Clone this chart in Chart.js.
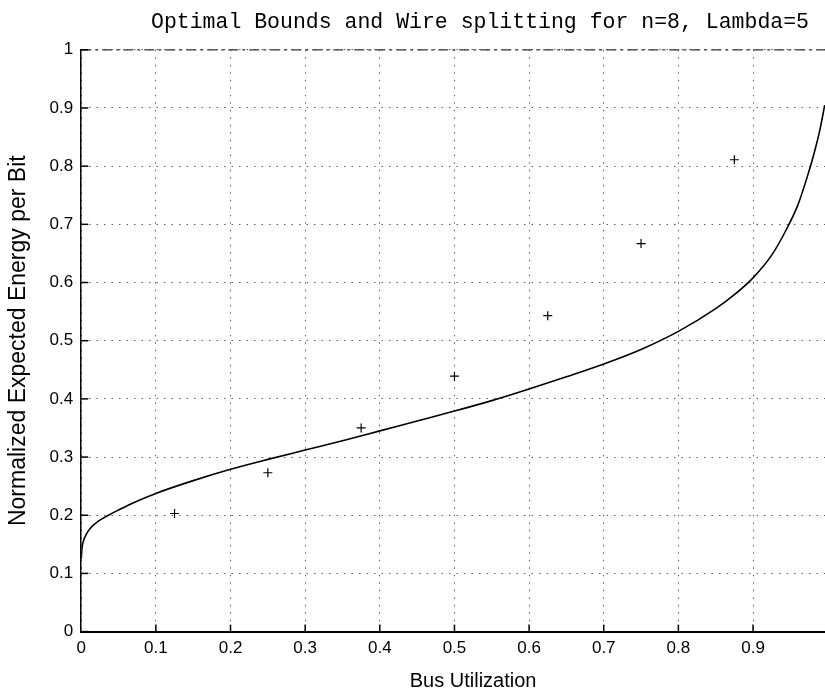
<!DOCTYPE html>
<html>
<head>
<meta charset="utf-8">
<script src="https://cdn.jsdelivr.net/npm/chart.js@4.4.1/dist/chart.umd.min.js"></script>
<style>
html,body{margin:0;padding:0;background:#fff;overflow:hidden;}
#wrap{width:825px;height:690px;overflow:hidden;}
canvas{display:block;}
</style>
</head>
<body>
<div id="wrap"><canvas id="c" width="960" height="694"></canvas></div>
<script>
// Optimal bound curve (solid line)
const boundX = [0, 0.001, 0.003, 0.007, 0.013, 0.022, 0.035, 0.05, 0.07, 0.1, 0.15, 0.2, 0.25, 0.3, 0.35, 0.4, 0.45, 0.5, 0.55, 0.6, 0.65, 0.7, 0.75, 0.8, 0.85, 0.875, 0.9, 0.925, 0.945, 0.96, 0.972, 0.982, 0.99, 0.996];
const boundY = [0.125, 0.143, 0.156, 0.168, 0.179, 0.189, 0.199, 0.209, 0.2215, 0.2375, 0.2595, 0.279, 0.296, 0.312, 0.328, 0.345, 0.362, 0.379, 0.397, 0.417, 0.438, 0.460, 0.485, 0.516, 0.555, 0.579, 0.608, 0.647, 0.692, 0.733, 0.779, 0.823, 0.865, 0.905];
// Wire splitting points (+ markers)
const splitX = [0.125, 0.25, 0.375, 0.5, 0.625, 0.75, 0.875];
const splitY = [0.203, 0.273, 0.350, 0.439, 0.543, 0.667, 0.811];
// Tick labels
const xTickLabels = ['0', '0.1', '0.2', '0.3', '0.4', '0.5', '0.6', '0.7', '0.8', '0.9'];
const yTickLabels = ['0', '0.1', '0.2', '0.3', '0.4', '0.5', '0.6', '0.7', '0.8', '0.9', '1'];

const titleText = 'Optimal Bounds and Wire splitting for n=8, Lambda=5';
const xTitle = 'Bus Utilization';
const yTitle = 'Normalized Expected Energy per Bit';

const boundData = boundX.map((x, i) => ({x: x, y: boundY[i]}));
const splitData = splitX.map((x, i) => ({x: x, y: splitY[i]}));

const inwardTicks = {
  id: 'inwardTicks',
  afterDraw(chart) {
    const ctx = chart.ctx;
    const a = chart.chartArea;
    const xs = chart.scales.x, ys = chart.scales.y;
    ctx.save();
    // top border (dash-dot)
    ctx.strokeStyle = '#333';
    ctx.lineWidth = 1.3;
    ctx.setLineDash([10, 4, 3, 4]);
    ctx.beginPath();
    ctx.moveTo(a.left, a.top);
    ctx.lineTo(a.right, a.top);
    ctx.stroke();
    ctx.setLineDash([]);
    ctx.strokeStyle = '#000';
    ctx.lineWidth = 1.5;
    xs.ticks.forEach((t, i) => {
      if (t.value > 0.95 || t.value <= 0) return;
      const px = xs.getPixelForTick(i);
      ctx.beginPath();
      ctx.moveTo(px, a.bottom);
      ctx.lineTo(px, a.bottom - 7);
      ctx.stroke();
    });
    ys.ticks.forEach((t, i) => {
      const py = ys.getPixelForTick(i);
      ctx.beginPath();
      ctx.moveTo(a.left, py);
      ctx.lineTo(a.left + 7, py);
      ctx.stroke();
    });
    ctx.restore();
  }
};

new Chart(document.getElementById('c'), {
  type: 'scatter',
  data: {
    datasets: [
      {
        label: 'bound',
        data: boundData,
        showLine: true,
        borderColor: '#000',
        borderWidth: 1.6,
        pointRadius: 0,
        cubicInterpolationMode: 'monotone',
        fill: false
      },
      {
        label: 'wire splitting',
        data: splitData,
        showLine: false,
        pointStyle: 'cross',
        pointRadius: 4.5,
        borderColor: '#000',
        backgroundColor: '#000',
        borderWidth: 1.2
      }
    ]
  },
  options: {
    responsive: false,
    animation: false,
    events: [],
    layout: {padding: {left: 0, right: 0, top: 0, bottom: 0}},
    plugins: {
      legend: {display: false},
      tooltip: {enabled: false},
      title: {
        display: true,
        text: titleText,
        color: '#000',
        font: {family: "'Liberation Mono', 'DejaVu Sans Mono', monospace", size: 21.5, weight: 'normal'},
        padding: {top: 9, bottom: 15}
      }
    },
    scales: {
      x: {
        type: 'linear',
        min: 0,
        max: 1.05,
        border: {display: true, color: '#000', width: 2, dash: [1.5, 6]},
        grid: {color: 'rgba(40,40,40,0.75)', lineWidth: 1, drawTicks: false},
        ticks: {
          stepSize: 0.1,
          includeBounds: false,
          padding: 7,
          color: '#000',
          font: {family: "'Liberation Sans', Arial, sans-serif", size: 17},
          maxRotation: 0,
          autoSkip: false,
          callback: (v) => { const i = Math.round(v * 10); return i < xTickLabels.length ? xTickLabels[i] : ''; }
        },
        title: {
          display: true,
          text: xTitle,
          color: '#000',
          font: {family: "'Liberation Sans', Arial, sans-serif", size: 20},
          padding: {top: 3, bottom: 1}
        }
      },
      y: {
        type: 'linear',
        min: 0,
        max: 1,
        border: {display: true, color: '#000', width: 1.5, dash: [1.5, 6]},
        grid: {color: 'rgba(40,40,40,0.75)', lineWidth: 1, drawTicks: false},
        ticks: {
          stepSize: 0.1,
          padding: 8,
          color: '#000',
          font: {family: "'Liberation Sans', Arial, sans-serif", size: 17},
          autoSkip: false,
          callback: (v) => yTickLabels[Math.round(v * 10)]
        },
        title: {
          display: true,
          text: yTitle,
          color: '#000',
          font: {family: "'Liberation Sans', Arial, sans-serif", size: 23},
          padding: {top: 5, bottom: 9}
        }
      },
      yR: {
        type: 'linear',
        position: 'right',
        display: true,
        min: 0,
        max: 1,
        grid: {display: false, drawTicks: false},
        border: {display: false},
        ticks: {display: false},
        afterFit: (scale) => { scale.width = 95; }
      }
    }
  },
  plugins: [inwardTicks]
});
</script>
</body>
</html>
